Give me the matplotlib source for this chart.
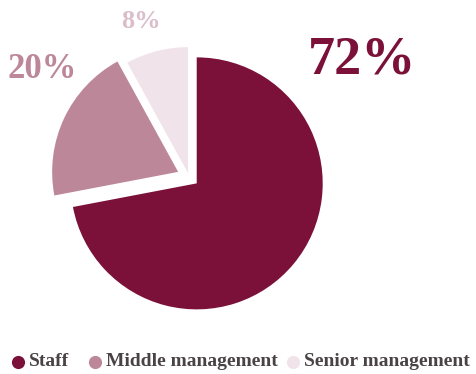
import matplotlib.pyplot as plt

# Staff breakdown
labels = ["Staff", "Middle management", "Senior management"]
shares = [72, 20, 8]
colors = ["#7b1139", "#bd879a", "#f0e4ea"]
label_colors = ["#7b1139", "#bd879a", "#dbbdca"]

plt.rcParams['font.family'] = ['Liberation Serif', 'DejaVu Serif']

fig = plt.figure(figsize=(4.77, 3.74), dpi=100)
ax = fig.add_axes([0, 0, 1, 1])

# pie drawn in pixel-like units so the layout is easy to place
ax.pie(shares, colors=colors, startangle=90, counterclock=False,
       explode=[10, 12, 4], center=(189, 197), radius=126,
       wedgeprops=dict(linewidth=0))
ax.set_xlim(0, 477)
ax.set_ylim(0, 374)
ax.set_aspect('equal')
ax.axis('off')

# percentage labels
ax.text(362, 374 - 73, f"{shares[0]}%", color=label_colors[0], fontsize=39,
        fontweight='bold', ha='center', va='baseline')
ax.text(42, 374 - 78, f"{shares[1]}%", color=label_colors[1], fontsize=25,
        fontweight='bold', ha='center', va='baseline')
ax.text(141, 374 - 28, f"{shares[2]}%", color=label_colors[2], fontsize=19,
        fontweight='bold', ha='center', va='baseline')

# legend row along the bottom
dot_x = [18, 95, 293]
leg_y = 374 - 362
for x, lab, c in zip(dot_x, labels, colors):
    ax.scatter([x], [leg_y], s=90, color=c, linewidths=0, clip_on=False)
    ax.text(x + 11, leg_y, lab, color="#4a4346", fontsize=14,
            fontweight='bold', ha='left', va='center')

fig.savefig("out.png", dpi=100)
